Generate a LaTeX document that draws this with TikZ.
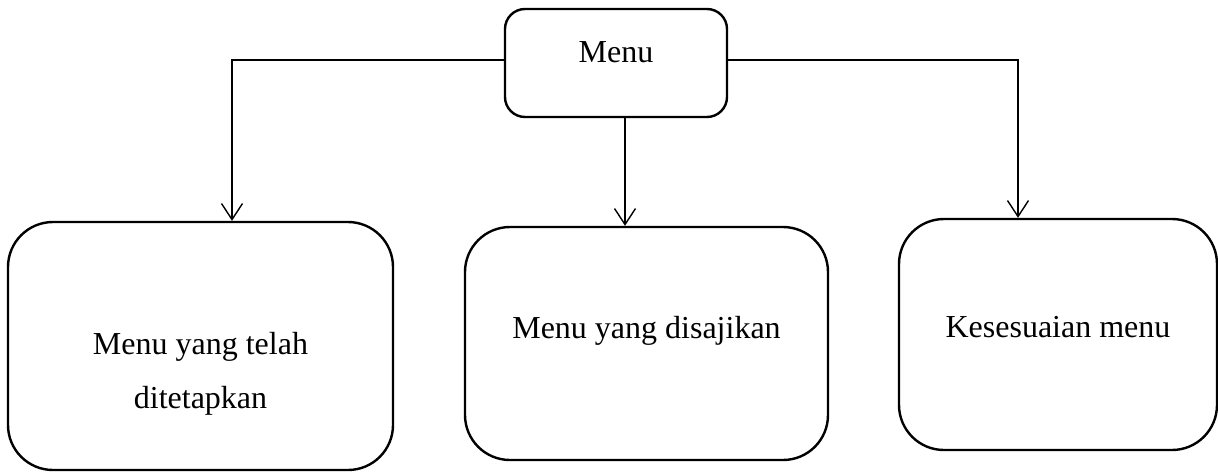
\documentclass[tikz,border=0pt]{standalone}
\usepackage{fontspec}
\setmainfont{Liberation Serif}
\usetikzlibrary{arrows.meta}
\begin{document}
\begin{tikzpicture}[x=1pt,y=-1pt,
  box/.style={draw, line width=2.4pt, rounded corners=#1, inner sep=0pt},
  txt/.style={font=\fontsize{32}{54}\selectfont, align=center},
  conn/.style={line width=1.4pt},
  arr/.style={conn, -{Straight Barb[length=16pt,width=21pt,line width=1.4pt]}}]
\useasboundingbox (0,0) rectangle (1218,472);
\node[box=20pt, minimum width=222pt, minimum height=108pt,
      label={[txt,yshift=11pt]center:Menu}] (menu) at (616,63) {};
\node[box=45pt, minimum width=385pt, minimum height=248pt,
      label={[txt,yshift=-27.5pt]center:Menu yang telah\\ditetapkan}] (b1) at (200.5,346) {};
\node[box=45pt, minimum width=363pt, minimum height=233pt,
      label={[txt,yshift=13pt]center:Menu yang disajikan}] (b2) at (646.5,343.5) {};
\node[box=45pt, minimum width=318pt, minimum height=231pt,
      label={[txt,yshift=7.5pt]center:Kesesuaian menu}] (b3) at (1058,334.5) {};
\draw[arr] ([yshift=3pt]menu.west) -| ([xshift=31.5pt]b1.north);
\draw[arr] ([xshift=9pt]menu.south) -- ([xshift=9pt]menu.south |- b2.north);
\draw[arr] ([yshift=3pt]menu.east) -| ([xshift=-40pt]b3.north);
\end{tikzpicture}
\end{document}
